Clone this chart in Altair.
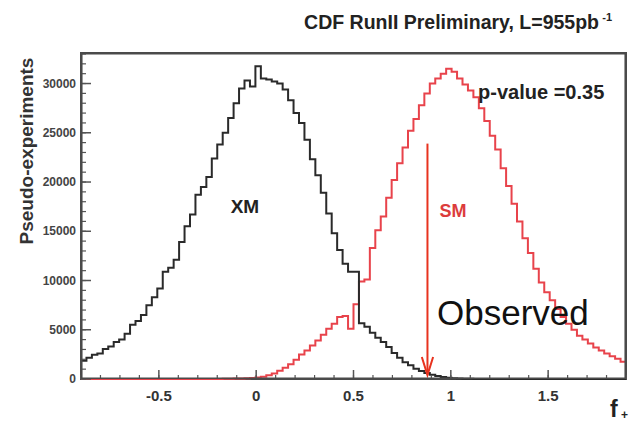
import altair as alt
import pandas as pd

FONT = "Liberation Sans"

# histogram definition: 100 bins from -0.9 to 1.9
BIN_LO = -0.9
BIN_HI = 1.9
BIN_W = 0.028
N_BINS = 100
Y_MAX = 33100

xm_counts = [
    1850, 2150, 2450, 2600, 3050, 3300, 3750, 4000, 4600, 5500,
    5900, 6500, 7500, 8300, 9200, 10900, 11300, 12100, 13900, 15500,
    16700, 18700, 19500, 20500, 22400, 23800, 25000, 26500, 28000, 29500,
    30300, 29700, 31750, 30500, 30400, 30200, 30000, 29400, 28300, 27000,
    26000, 24300, 22300, 20700, 18900, 16800, 14800, 13100, 11700, 10900,
    10900, 5650, 5300, 4700, 4200, 3750, 3250, 2650, 2150, 1700,
    1400, 1050, 800, 600, 430, 300, 200, 130, 80, 50,
    30, 20, 10, 5, 0, 0, 0, 0, 0, 0,
    0, 0, 0, 0, 0, 0, 0, 0, 0, 0,
    0, 0, 0, 0, 0, 0, 0, 0, 0, 0,
]

sm_counts = [
    0, 0, 0, 0, 0, 0, 0, 0, 0, 0,
    0, 0, 0, 0, 0, 0, 0, 0, 0, 0,
    0, 0, 0, 0, 0, 10, 20, 30, 45, 60,
    80, 110, 150, 220, 380, 560, 850, 1150, 1500, 1950,
    2500, 2900, 3400, 3900, 4500, 5100, 5600, 6300, 6400, 5100,
    7600, 9900, 10100, 13300, 15100, 16500, 18400, 20200, 21900, 23500,
    25200, 26400, 27800, 29000, 30000, 30500, 31000, 31500, 31200, 30500,
    29900, 29300, 28600, 27500, 26200, 24700, 23300, 21400, 19600, 17800,
    16000, 14300, 12800, 11200, 9800, 8800, 8000, 7100, 6300, 5600,
    5000, 4400, 4000, 3600, 3200, 2900, 2600, 2300, 2050, 1750,
]

x_major_ticks = [-0.5, 0, 0.5, 1, 1.5]
x_tick_labels = ["-0.5", "0", "0.5", "1", "1.5"]
x_minor_ticks = [round(-0.9 + 0.1 * i, 2) for i in range(29)]
y_major_ticks = [0, 5000, 10000, 15000, 20000, 25000, 30000]
y_tick_labels = ["0", "5000", "10000", "15000", "20000", "25000", "30000"]
y_minor_ticks = [1000 * i for i in range(34)]

observed_f = 0.88
observed_top = 23900
observed_tip = 400

edges = [round(BIN_LO + BIN_W * i, 4) for i in range(N_BINS + 1)]


def step_df(counts):
    rows = [{"f": edges[i], "n": counts[i]} for i in range(N_BINS)]
    rows.append({"f": edges[N_BINS], "n": counts[-1]})
    return pd.DataFrame(rows)


W, H = 545, 326
xscale = alt.Scale(domain=[BIN_LO, BIN_HI], nice=False, zero=False)
yscale = alt.Scale(domain=[0, Y_MAX], nice=False, zero=False)
X = alt.X("f:Q", scale=xscale, axis=None)
Y = alt.Y("n:Q", scale=yscale, axis=None)

# frame as four thin filled bands at the domain limits
band_df = pd.DataFrame({
    "f": [BIN_LO, BIN_LO, BIN_LO, BIN_HI - 0.008],
    "f2": [BIN_HI, BIN_HI, BIN_LO + 0.008, BIN_HI],
    "n": [0, Y_MAX - 160, 0, 0],
    "n2": [160, Y_MAX, Y_MAX, Y_MAX],
})
frame = alt.Chart(band_df).mark_rect(color="#4a4a4a").encode(
    x=X, x2="f2:Q", y=Y, y2="n2:Q")

sm_line = alt.Chart(step_df(sm_counts)).mark_line(
    interpolate="step-after", color="#e8434b", strokeWidth=2
).encode(x=X, y=Y)
xm_line = alt.Chart(step_df(xm_counts)).mark_line(
    interpolate="step-after", color="#2a2a2a", strokeWidth=2
).encode(x=X, y=Y)

tick_color = "#555"
xmaj = alt.Chart(pd.DataFrame({"f": x_major_ticks})).mark_rule(
    color=tick_color, strokeWidth=1.5
).encode(x=X, y=alt.value(H), y2=alt.value(H - 9))
xmin = alt.Chart(pd.DataFrame({"f": x_minor_ticks})).mark_rule(
    color=tick_color, strokeWidth=1.2
).encode(x=X, y=alt.value(H), y2=alt.value(H - 4))
ymaj = alt.Chart(pd.DataFrame({"n": y_major_ticks})).mark_rule(
    color=tick_color, strokeWidth=1.5
).encode(y=Y, x=alt.value(0), x2=alt.value(10))
ymin = alt.Chart(pd.DataFrame({"n": y_minor_ticks})).mark_rule(
    color=tick_color, strokeWidth=1.2
).encode(y=Y, x=alt.value(0), x2=alt.value(5))

# tick labels
xlab = alt.Chart(pd.DataFrame({"f": x_major_ticks, "t": x_tick_labels})).mark_text(
    font=FONT, fontSize=15, fontWeight="bold", color="#333", baseline="middle"
).encode(x=X, y=alt.value(H + 17), text="t:N")
ylab = alt.Chart(pd.DataFrame({"n": y_major_ticks, "t": y_tick_labels})).mark_text(
    font=FONT, fontSize=12, fontWeight="bold", color="#444", align="right",
    baseline="middle"
).encode(y=Y, x=alt.value(-5), text="t:N")

arrow_color = "#e8321e"
arrow = alt.Chart(pd.DataFrame({"f": [observed_f], "n": [observed_top], "n2": [observed_tip]})).mark_rule(
    color=arrow_color, strokeWidth=2
).encode(x=X, y=Y, y2="n2:Q")
head = alt.Chart(pd.DataFrame({
    "f": [observed_f - 0.029, observed_f, observed_f + 0.029],
    "n": [observed_tip + 1830, observed_tip, observed_tip + 1830],
    "o": [0, 1, 2],
})).mark_line(color=arrow_color, strokeWidth=2).encode(x=X, y=Y, order="o:O")


def label(text, f, n, size, weight, color, align="center", baseline="middle"):
    return alt.Chart(pd.DataFrame({"f": [f], "n": [n], "t": [text]})).mark_text(
        font=FONT, fontSize=size, fontWeight=weight, color=color,
        align=align, baseline=baseline,
    ).encode(x=X, y=Y, text="t:N")


def fixed_text(text, px, py, size, weight, color, align="left",
               baseline="alphabetic", angle=0):
    return alt.Chart(pd.DataFrame({"t": [text]})).mark_text(
        font=FONT, fontSize=size, fontWeight=weight, color=color,
        align=align, baseline=baseline, angle=angle,
    ).encode(x=alt.value(px), y=alt.value(py), text="t:N")


xm_lbl = label("XM", -0.058, 17490, 19, "bold", "#222")
sm_lbl = label("SM", 1.011, 16920, 18, "bold", "#dc3c3c")
p_lbl = label("p-value =0.35", 1.14, 29030, 20, "bold", "#222", align="left")
obs_lbl = label("Observed", 0.929, 5480, 35, "normal", "#111", align="left",
                baseline="alphabetic")

title_main = fixed_text("CDF RunII Preliminary, L=955pb", 518, -24, 19.5, "bold",
                        "#222", align="right")
title_sup = fixed_text("-1", 531, -32, 11, "bold", "#222", align="right")
ytitle = fixed_text("Pseudo-experiments", -54, 98, 19, "bold", "#333",
                    align="center", baseline="middle", angle=270)
xtitle_f = fixed_text("f", 529, H + 38, 23, "bold", "#222")
xtitle_p = fixed_text("+", 540, H + 40, 12, "bold", "#222")

chart = alt.layer(
    sm_line, xm_line, xlab, ylab, arrow, head,
    xm_lbl, sm_lbl, p_lbl, obs_lbl, title_main, title_sup, ytitle,
    xtitle_f, xtitle_p, xmaj, xmin, ymaj, ymin, frame,
).properties(
    width=W, height=H,
    autosize=alt.AutoSizeParams(type="none"),
    padding={"left": 81, "top": 53, "right": 4, "bottom": 43},
    background="white",
).configure_view(stroke="#4a4a4a", strokeWidth=2)

chart.save("out.html", embed_options={"renderer": "svg", "actions": False})
